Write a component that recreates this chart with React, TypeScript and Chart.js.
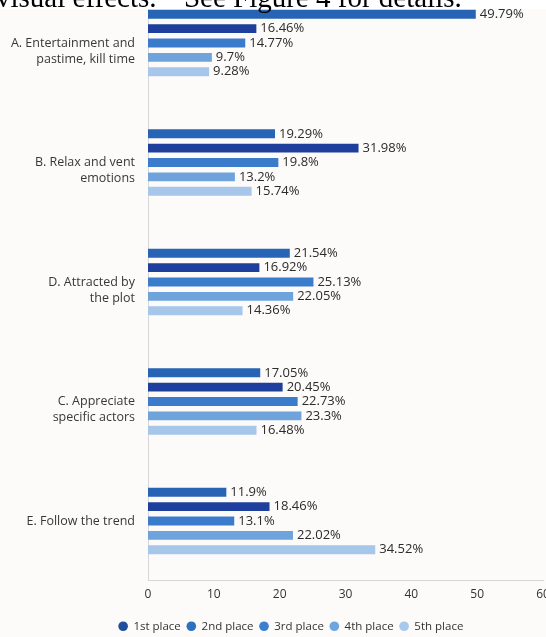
import React, { useEffect, useRef } from 'react';
import { Chart, registerables } from 'chart.js';

Chart.register(...registerables);

// ---- data ----
const categoryLines: (string | string[])[] = [
  ['', 'A. Entertainment and', 'pastime, kill time'],
  ['', 'B. Relax and vent', 'emotions'],
  ['', 'D. Attracted by', 'the plot'],
  ['', 'C. Appreciate', 'specific actors'],
  'E. Follow the trend',
];
const seriesNames = ['1st place', '2nd place', '3rd place', '4th place', '5th place'];
const place1 = [49.79, 19.29, 21.54, 17.05, 11.9];
const place2 = [16.46, 31.98, 16.92, 20.45, 18.46];
const place3 = [14.77, 19.8, 25.13, 22.73, 13.1];
const place4 = [9.7, 13.2, 22.05, 23.3, 22.02];
const place5 = [9.28, 15.74, 14.36, 16.48, 34.52];
const xTicks = [0, 10, 20, 30, 40, 50, 60];

// ---- styles ----
const barColors = ['#2764b6', '#1f3f9c', '#3a7ccb', '#6fa3dc', '#a6c6ea'];
const legendColors = ['#1f4f9c', '#2e70c0', '#3b7fd0', '#6fa6df', '#a8c8ec'];
const FONT = '"Open Sans", "Noto Sans", sans-serif';

const valueLabelPlugin = {
  id: 'valueLabels',
  afterDatasetsDraw(chart: any) {
    const ctx = chart.ctx;
    ctx.save();
    ctx.font = `13px ${FONT}`;
    ctx.fillStyle = '#2b2b2b';
    ctx.textAlign = 'left';
    ctx.textBaseline = 'middle';
    chart.data.datasets.forEach((ds: any, i: number) => {
      const meta = chart.getDatasetMeta(i);
      if (meta.hidden) return;
      meta.data.forEach((el: any, j: number) => {
        ctx.fillText(`${ds.data[j]}%`, el.x + 4, el.y);
      });
    });
    ctx.restore();
  },
};

// shifts the legend box so it is centred under the reference position
const legendShiftPlugin = {
  id: 'legendShift',
  afterLayout(chart: any) {
    if (chart.legend) {
      chart.legend.left = 39;
    }
  },
};

export default function App() {
  const canvasRef = useRef<HTMLCanvasElement | null>(null);

  useEffect(() => {
    const canvas = canvasRef.current;
    if (!canvas) return;
    const seriesValues = [place1, place2, place3, place4, place5];
    const chart = new Chart(canvas, {
      type: 'bar',
      data: {
        labels: categoryLines as any,
        datasets: seriesNames.map((name, i) => ({
          label: name,
          data: seriesValues[i],
          backgroundColor: barColors[i],
          borderWidth: 0,
          categoryPercentage: 0.6,
          barPercentage: 0.62,
        })),
      },
      options: {
        indexAxis: 'y',
        responsive: false,
        animation: false,
        devicePixelRatio: 1,
        layout: { padding: { top: 13.25, left: 0, right: 37, bottom: 0 } },
        scales: {
          x: {
            min: 0,
            max: 60,
            grid: { display: false, drawTicks: false },
            border: { display: true, color: '#d6d6d6', width: 1 },
            ticks: {
              padding: 7,
              color: '#333333',
              font: { family: FONT, size: 12 },
            },
            afterBuildTicks: (s: any) => {
              s.ticks = xTicks.map((v) => ({ value: v }));
            },
            afterFit: (s: any) => {
              s.height = 33.75;
              s.paddingLeft = 0;
              s.paddingRight = 0;
            },
          },
          y: {
            grid: { display: false, drawTicks: false },
            border: { display: true, color: '#d6d6d6', width: 1 },
            ticks: {
              padding: 13,
              color: '#383838',
              font: { family: FONT, size: 12.5, lineHeight: 1.28 },
            },
            afterFit: (s: any) => {
              s.width = 148;
              s.paddingTop = 0;
              s.paddingBottom = 0;
            },
          },
        },
        plugins: {
          title: { display: false },
          tooltip: { enabled: false },
          legend: {
            position: 'bottom',
            labels: {
              usePointStyle: true,
              pointStyle: 'circle',
              boxWidth: 9,
              boxHeight: 6.8,
              padding: 6,
              color: '#333333',
              font: { family: FONT, size: 11.5 },
              generateLabels: (c: any) =>
                c.data.datasets.map((ds: any, i: number) => ({
                  text: ds.label,
                  fillStyle: legendColors[i],
                  strokeStyle: legendColors[i],
                  lineWidth: 0,
                  pointStyle: 'circle',
                  hidden: false,
                  datasetIndex: i,
                  fontColor: '#333333',
                })),
            },
          },
        },
      },
      plugins: [valueLabelPlugin, legendShiftPlugin],
    });
    return () => chart.destroy();
  }, []);

  return (
    <div
      style={{
        position: 'absolute',
        left: 0,
        top: 0,
        width: 546,
        height: 637,
        overflow: 'hidden',
        background: '#ffffff',
      }}
    >
      <div
        style={{
          position: 'absolute',
          left: 0,
          top: 9,
          width: 546,
          height: 628,
          overflow: 'hidden',
          background: '#fcfbf9',
        }}
      >
        <canvas
          ref={canvasRef}
          width={580}
          height={672}
          style={{ position: 'absolute', left: 0, top: -39, width: 580, height: 672 }}
        />
      </div>
      <div
        style={{
          position: 'absolute',
          left: -4,
          top: -17.3,
          fontFamily: '"Liberation Serif", "Times New Roman", serif',
          fontSize: 29,
          lineHeight: '29px',
          whiteSpace: 'pre',
          color: '#000000',
        }}
      >
        {'visual effects.\u201D  See Figure 4 for details.'}
      </div>
    </div>
  );
}
